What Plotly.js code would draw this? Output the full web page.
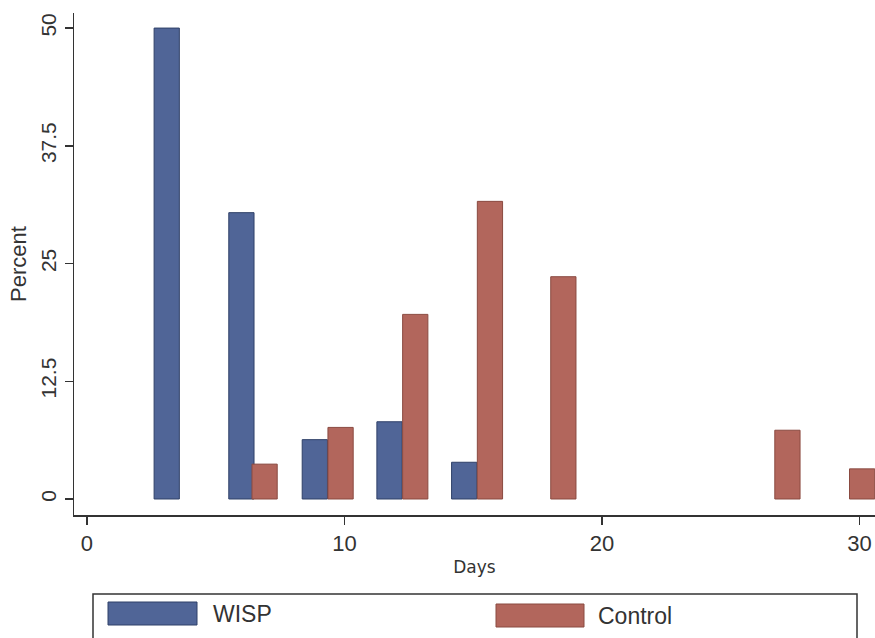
<!DOCTYPE html>
<html>
<head>
<meta charset="utf-8">
<script src="https://cdn.plot.ly/plotly-3.0.1.min.js"></script>
<style>html,body{margin:0;padding:0;background:#fff;}#chart{width:875px;height:638px;}</style>
</head>
<body>
<div id="chart"></div>
<script>
// Data
const seriesNames = ["WISP", "Control"];
const wispDays = [3.1, 6.0, 8.85, 11.75, 14.65];
const wispPercent = [50.0, 30.4, 6.3, 8.2, 3.9];
const controlDays = [6.9, 9.85, 12.75, 15.65, 18.5, 27.2, 30.1];
const controlPercent = [3.7, 7.6, 19.6, 31.6, 23.6, 7.3, 3.2];
const xTickVals = [0, 10, 20, 30];
const yTickVals = [0, 12.5, 25, 37.5, 50];
const yTickText = ["0", "12.5", "25", "37.5", "50"];

const blue = "#506597", blueLine = "#2f4068";
const red = "#b2665c", redLine = "#8a4a40";

const W = 875, H = 638;
const mL = 74, mR = 0, mT = 13, mB = 123;
const pw = W - mL - mR, ph = H - mT - mB;
const px = x => (x - mL) / pw;
const py = y => (H - mB - y) / ph;

const traces = [
  {type: "bar", name: seriesNames[0], x: wispDays, y: wispPercent, width: 0.98,
   marker: {color: blue, line: {color: blueLine, width: 1}}, showlegend: false, hoverinfo: "x+y"},
  {type: "bar", name: seriesNames[1], x: controlDays, y: controlPercent, width: 0.98,
   marker: {color: red, line: {color: redLine, width: 1}}, showlegend: false, hoverinfo: "x+y"}
];

const layout = {
  width: W, height: H,
  margin: {l: mL, r: mR, t: mT, b: mB, pad: 0},
  paper_bgcolor: "#ffffff", plot_bgcolor: "#ffffff",
  font: {family: "Liberation Sans, Arial, sans-serif", color: "#333333"},
  barmode: "overlay",
  xaxis: {
    range: [-0.5, 30.6], tickvals: xTickVals, ticks: "outside", ticklen: 8, tickwidth: 1.5,
    tickcolor: "#333", showline: true, linecolor: "#333", linewidth: 1.5,
    showgrid: false, zeroline: false, tickfont: {size: 22, color: "#333"},
    title: {text: "Days", font: {size: 17, family: "DejaVu Sans, sans-serif", color: "#333"}, standoff: 6}
  },
  yaxis: {
    range: [-1.7, 51.6], tickvals: yTickVals, ticktext: yTickText, ticks: "outside", ticklen: 8,
    tickwidth: 1.5, tickcolor: "#333", showline: true, linecolor: "#333", linewidth: 1.5,
    showgrid: false, zeroline: false, tickangle: -90, tickfont: {size: 21, color: "#333"},
    title: {text: "Percent", font: {size: 22, color: "#333"}, standoff: 4}
  },
  shapes: [
    {type: "rect", xref: "paper", yref: "paper", x0: px(93), x1: px(857), y0: py(594), y1: py(645),
     line: {color: "#333", width: 1.5}, fillcolor: "rgba(0,0,0,0)"},
    {type: "rect", xref: "paper", yref: "paper", x0: px(108), x1: px(197), y0: py(602), y1: py(625),
     line: {color: blueLine, width: 1}, fillcolor: blue},
    {type: "rect", xref: "paper", yref: "paper", x0: px(496), x1: px(584), y0: py(604), y1: py(627),
     line: {color: redLine, width: 1}, fillcolor: red}
  ],
  annotations: [
    {xref: "paper", yref: "paper", x: px(211), y: py(614), text: seriesNames[0], showarrow: false,
     xanchor: "left", yanchor: "middle", font: {size: 23, color: "#333"}},
    {xref: "paper", yref: "paper", x: px(596), y: py(616), text: seriesNames[1], showarrow: false,
     xanchor: "left", yanchor: "middle", font: {size: 23, color: "#333"}}
  ]
};

Plotly.newPlot("chart", traces, layout, {displayModeBar: false, staticPlot: true});
</script>
</body>
</html>
